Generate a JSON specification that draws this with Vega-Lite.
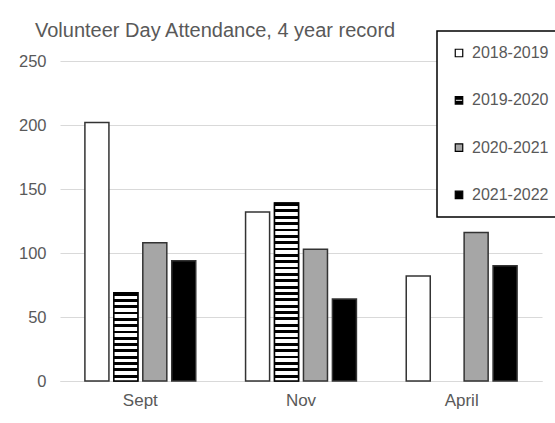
{
  "$schema": "https://vega.github.io/schema/vega-lite/v6.json",
  "width": 482,
  "height": 320,
  "autosize": "none",
  "padding": {"left": 60, "top": 61, "right": 13, "bottom": 42},
  "background": "white",
  "title": {
    "text": "Volunteer Day Attendance, 4 year record",
    "anchor": "start",
    "frame": "group",
    "dx": -25,
    "dy": 15,
    "fontSize": 20,
    "font": "Liberation Sans",
    "fontWeight": "normal",
    "color": "#595959",
    "offset": 4
  },
  "data": {
    "values": [
      {"month": "Sept", "season": "2018-2019", "attendance": 202},
      {"month": "Sept", "season": "2019-2020", "attendance": 69},
      {"month": "Sept", "season": "2020-2021", "attendance": 108},
      {"month": "Sept", "season": "2021-2022", "attendance": 94},
      {"month": "Nov", "season": "2018-2019", "attendance": 132},
      {"month": "Nov", "season": "2019-2020", "attendance": 139},
      {"month": "Nov", "season": "2020-2021", "attendance": 103},
      {"month": "Nov", "season": "2021-2022", "attendance": 64},
      {"month": "April", "season": "2018-2019", "attendance": 82},
      {"month": "April", "season": "2020-2021", "attendance": 116},
      {"month": "April", "season": "2021-2022", "attendance": 90}
    ]
  },
  "encoding": {
    "x": {
      "field": "month", "type": "nominal", "sort": ["Sept", "Nov", "April"],
      "scale": {"paddingInner": 0.31, "paddingOuter": 0.155},
      "axis": {"title": null, "labelAngle": 0, "ticks": false, "tickSize": 0, "labelPadding": 11, "labelFontSize": 17, "domainColor": "#d9d9d9", "domainWidth": 1}
    },
    "xOffset": {
      "field": "season", "type": "nominal",
      "sort": ["2018-2019", "2019-2020", "2020-2021", "2021-2022"],
      "scale": {"paddingInner": 0.17, "paddingOuter": 0}
    },
    "y": {
      "field": "attendance", "type": "quantitative",
      "scale": {"domain": [0, 250], "nice": false},
      "axis": {"title": null, "values": [0, 50, 100, 150, 200, 250], "domain": false, "ticks": false, "tickSize": 0, "labelPadding": 14, "labelFontSize": 16.5, "gridColor": "#d9d9d9", "gridWidth": 1}
    }
  },
  "layer": [
    {
      "mark": {"type": "bar", "stroke": "#333333", "strokeWidth": 1.5},
      "encoding": {
        "color": {
          "field": "season", "type": "nominal",
          "scale": {"domain": ["2018-2019", "2019-2020", "2020-2021", "2021-2022"], "range": ["#ffffff", "#000000", "#a6a6a6", "#000000"]},
          "legend": {
            "title": null,
            "orient": "none",
            "legendX": 377,
            "legendY": -30,
            "labelFontSize": 16,
            "labelFont": "Liberation Sans",
            "labelColor": "#595959",
            "symbolType": "square",
            "symbolSize": 56,
            "symbolStrokeColor": "#000000",
            "symbolStrokeWidth": 1.2,
            "symbolOpacity": 1,
            "padding": 14,
            "rowPadding": 31.3,
            "labelOffset": 5,
            "strokeColor": "#000000",
            "fillColor": "#ffffff",
            "encode": {
              "legend": {"update": {"strokeWidth": {"value": 1.5}}},
              "symbols": {"update": {
                "stroke": {"value": "#000000"},
                "strokeWidth": {"value": 1.2},
                "shape": {"signal": "datum.value === '2019-2020' ? 'M-1,-1H1V1H-1Z M-1,-0.3V0.3H1V-0.3Z' : 'square'"}
              }}
            }
          }
        }
      }
    },
    {
      "transform": [{"filter": "datum.month === 'Sept' && datum.season === '2019-2020'"}],
      "mark": {"type": "bar", "stroke": "#000000", "strokeWidth": 1.5, "fill": {"gradient": "linear", "x1": 0, "y1": 0, "x2": 0, "y2": 1, "stops": [
        {"offset": 0, "color": "#000000"}, {"offset": 0.0321, "color": "#000000"}, {"offset": 0.0321, "color": "#ffffff"}, {"offset": 0.0714, "color": "#ffffff"},
        {"offset": 0.0714, "color": "#000000"}, {"offset": 0.1036, "color": "#000000"}, {"offset": 0.1036, "color": "#ffffff"}, {"offset": 0.1429, "color": "#ffffff"},
        {"offset": 0.1429, "color": "#000000"}, {"offset": 0.1750, "color": "#000000"}, {"offset": 0.1750, "color": "#ffffff"}, {"offset": 0.2143, "color": "#ffffff"},
        {"offset": 0.2143, "color": "#000000"}, {"offset": 0.2464, "color": "#000000"}, {"offset": 0.2464, "color": "#ffffff"}, {"offset": 0.2857, "color": "#ffffff"},
        {"offset": 0.2857, "color": "#000000"}, {"offset": 0.3179, "color": "#000000"}, {"offset": 0.3179, "color": "#ffffff"}, {"offset": 0.3571, "color": "#ffffff"},
        {"offset": 0.3571, "color": "#000000"}, {"offset": 0.3893, "color": "#000000"}, {"offset": 0.3893, "color": "#ffffff"}, {"offset": 0.4286, "color": "#ffffff"},
        {"offset": 0.4286, "color": "#000000"}, {"offset": 0.4607, "color": "#000000"}, {"offset": 0.4607, "color": "#ffffff"}, {"offset": 0.5, "color": "#ffffff"},
        {"offset": 0.5, "color": "#000000"}, {"offset": 0.5321, "color": "#000000"}, {"offset": 0.5321, "color": "#ffffff"}, {"offset": 0.5714, "color": "#ffffff"},
        {"offset": 0.5714, "color": "#000000"}, {"offset": 0.6036, "color": "#000000"}, {"offset": 0.6036, "color": "#ffffff"}, {"offset": 0.6429, "color": "#ffffff"},
        {"offset": 0.6429, "color": "#000000"}, {"offset": 0.6750, "color": "#000000"}, {"offset": 0.6750, "color": "#ffffff"}, {"offset": 0.7143, "color": "#ffffff"},
        {"offset": 0.7143, "color": "#000000"}, {"offset": 0.7464, "color": "#000000"}, {"offset": 0.7464, "color": "#ffffff"}, {"offset": 0.7857, "color": "#ffffff"},
        {"offset": 0.7857, "color": "#000000"}, {"offset": 0.8179, "color": "#000000"}, {"offset": 0.8179, "color": "#ffffff"}, {"offset": 0.8571, "color": "#ffffff"},
        {"offset": 0.8571, "color": "#000000"}, {"offset": 0.8893, "color": "#000000"}, {"offset": 0.8893, "color": "#ffffff"}, {"offset": 0.9286, "color": "#ffffff"},
        {"offset": 0.9286, "color": "#000000"}, {"offset": 0.9607, "color": "#000000"}, {"offset": 0.9607, "color": "#ffffff"}, {"offset": 1, "color": "#ffffff"}
      ]}}
    },
    {
      "transform": [{"filter": "datum.month === 'Nov' && datum.season === '2019-2020'"}],
      "mark": {"type": "bar", "stroke": "#000000", "strokeWidth": 1.5, "fill": {"gradient": "linear", "x1": 0, "y1": 0, "x2": 0, "y2": 1, "stops": [
        {"offset": 0, "color": "#000000"}, {"offset": 0.0161, "color": "#000000"}, {"offset": 0.0161, "color": "#ffffff"}, {"offset": 0.0357, "color": "#ffffff"},
        {"offset": 0.0357, "color": "#000000"}, {"offset": 0.0518, "color": "#000000"}, {"offset": 0.0518, "color": "#ffffff"}, {"offset": 0.0714, "color": "#ffffff"},
        {"offset": 0.0714, "color": "#000000"}, {"offset": 0.0875, "color": "#000000"}, {"offset": 0.0875, "color": "#ffffff"}, {"offset": 0.1071, "color": "#ffffff"},
        {"offset": 0.1071, "color": "#000000"}, {"offset": 0.1232, "color": "#000000"}, {"offset": 0.1232, "color": "#ffffff"}, {"offset": 0.1429, "color": "#ffffff"},
        {"offset": 0.1429, "color": "#000000"}, {"offset": 0.1589, "color": "#000000"}, {"offset": 0.1589, "color": "#ffffff"}, {"offset": 0.1786, "color": "#ffffff"},
        {"offset": 0.1786, "color": "#000000"}, {"offset": 0.1946, "color": "#000000"}, {"offset": 0.1946, "color": "#ffffff"}, {"offset": 0.2143, "color": "#ffffff"},
        {"offset": 0.2143, "color": "#000000"}, {"offset": 0.2304, "color": "#000000"}, {"offset": 0.2304, "color": "#ffffff"}, {"offset": 0.25, "color": "#ffffff"},
        {"offset": 0.25, "color": "#000000"}, {"offset": 0.2661, "color": "#000000"}, {"offset": 0.2661, "color": "#ffffff"}, {"offset": 0.2857, "color": "#ffffff"},
        {"offset": 0.2857, "color": "#000000"}, {"offset": 0.3018, "color": "#000000"}, {"offset": 0.3018, "color": "#ffffff"}, {"offset": 0.3214, "color": "#ffffff"},
        {"offset": 0.3214, "color": "#000000"}, {"offset": 0.3375, "color": "#000000"}, {"offset": 0.3375, "color": "#ffffff"}, {"offset": 0.3571, "color": "#ffffff"},
        {"offset": 0.3571, "color": "#000000"}, {"offset": 0.3732, "color": "#000000"}, {"offset": 0.3732, "color": "#ffffff"}, {"offset": 0.3929, "color": "#ffffff"},
        {"offset": 0.3929, "color": "#000000"}, {"offset": 0.4089, "color": "#000000"}, {"offset": 0.4089, "color": "#ffffff"}, {"offset": 0.4286, "color": "#ffffff"},
        {"offset": 0.4286, "color": "#000000"}, {"offset": 0.4446, "color": "#000000"}, {"offset": 0.4446, "color": "#ffffff"}, {"offset": 0.4643, "color": "#ffffff"},
        {"offset": 0.4643, "color": "#000000"}, {"offset": 0.4804, "color": "#000000"}, {"offset": 0.4804, "color": "#ffffff"}, {"offset": 0.5, "color": "#ffffff"},
        {"offset": 0.5, "color": "#000000"}, {"offset": 0.5161, "color": "#000000"}, {"offset": 0.5161, "color": "#ffffff"}, {"offset": 0.5357, "color": "#ffffff"},
        {"offset": 0.5357, "color": "#000000"}, {"offset": 0.5518, "color": "#000000"}, {"offset": 0.5518, "color": "#ffffff"}, {"offset": 0.5714, "color": "#ffffff"},
        {"offset": 0.5714, "color": "#000000"}, {"offset": 0.5875, "color": "#000000"}, {"offset": 0.5875, "color": "#ffffff"}, {"offset": 0.6071, "color": "#ffffff"},
        {"offset": 0.6071, "color": "#000000"}, {"offset": 0.6232, "color": "#000000"}, {"offset": 0.6232, "color": "#ffffff"}, {"offset": 0.6429, "color": "#ffffff"},
        {"offset": 0.6429, "color": "#000000"}, {"offset": 0.6589, "color": "#000000"}, {"offset": 0.6589, "color": "#ffffff"}, {"offset": 0.6786, "color": "#ffffff"},
        {"offset": 0.6786, "color": "#000000"}, {"offset": 0.6946, "color": "#000000"}, {"offset": 0.6946, "color": "#ffffff"}, {"offset": 0.7143, "color": "#ffffff"},
        {"offset": 0.7143, "color": "#000000"}, {"offset": 0.7304, "color": "#000000"}, {"offset": 0.7304, "color": "#ffffff"}, {"offset": 0.75, "color": "#ffffff"},
        {"offset": 0.75, "color": "#000000"}, {"offset": 0.7661, "color": "#000000"}, {"offset": 0.7661, "color": "#ffffff"}, {"offset": 0.7857, "color": "#ffffff"},
        {"offset": 0.7857, "color": "#000000"}, {"offset": 0.8018, "color": "#000000"}, {"offset": 0.8018, "color": "#ffffff"}, {"offset": 0.8214, "color": "#ffffff"},
        {"offset": 0.8214, "color": "#000000"}, {"offset": 0.8375, "color": "#000000"}, {"offset": 0.8375, "color": "#ffffff"}, {"offset": 0.8571, "color": "#ffffff"},
        {"offset": 0.8571, "color": "#000000"}, {"offset": 0.8732, "color": "#000000"}, {"offset": 0.8732, "color": "#ffffff"}, {"offset": 0.8929, "color": "#ffffff"},
        {"offset": 0.8929, "color": "#000000"}, {"offset": 0.9089, "color": "#000000"}, {"offset": 0.9089, "color": "#ffffff"}, {"offset": 0.9286, "color": "#ffffff"},
        {"offset": 0.9286, "color": "#000000"}, {"offset": 0.9446, "color": "#000000"}, {"offset": 0.9446, "color": "#ffffff"}, {"offset": 0.9643, "color": "#ffffff"},
        {"offset": 0.9643, "color": "#000000"}, {"offset": 0.9804, "color": "#000000"}, {"offset": 0.9804, "color": "#ffffff"}, {"offset": 1, "color": "#ffffff"}
      ]}}
    }
  ],
  "config": {
    "view": {"stroke": null},
    "font": "Liberation Sans",
    "axis": {"labelFont": "Liberation Sans", "labelColor": "#595959"}
  }
}
